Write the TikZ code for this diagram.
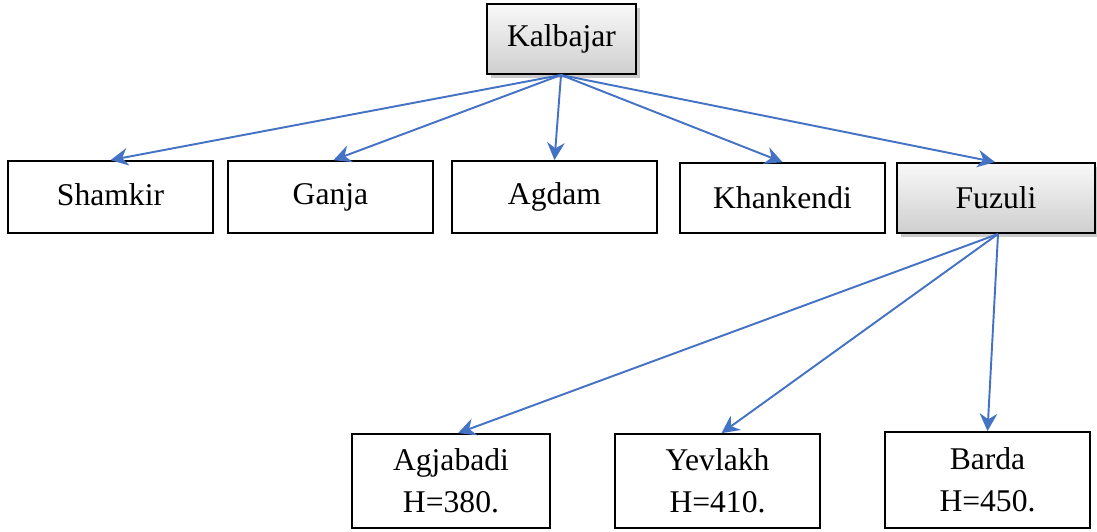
\documentclass[tikz,border=0pt]{standalone}
\usepackage{fontspec}
\setmainfont{Liberation Serif}
\usetikzlibrary{shadows,arrows.meta}
\definecolor{arr}{RGB}{68,114,196}
\begin{document}
\begin{tikzpicture}[x=0.02cm,y=-0.02cm,
  box/.style={draw=black, line width=1pt, inner sep=0pt, font=\fontsize{18}{24}\selectfont, align=center},
  gbox/.style={box, top color=gray!5, bottom color=gray!38, drop shadow={shadow xshift=2.5pt, shadow yshift=-2.5pt, fill=gray!70, opacity=0.6}},
  conn/.style={draw=arr, line width=1.1pt, -{Stealth[length=10pt,width=10pt]}}]
\useasboundingbox (0,0) rectangle (1097,531);
\node[gbox, minimum width=149*0.02cm, minimum height=70*0.02cm] (kal) at (561.5,39) {\raisebox{2pt}{Kalbajar}};
\node[box, minimum width=205*0.02cm, minimum height=72*0.02cm] (sha) at (110.5,197) {\raisebox{3pt}{Shamkir}};
\node[box, minimum width=205*0.02cm, minimum height=72*0.02cm] (gan) at (330.5,197) {\raisebox{3pt}{Ganja}};
\node[box, minimum width=205*0.02cm, minimum height=72*0.02cm] (agd) at (554.5,197) {\raisebox{3pt}{Agdam}};
\node[box, minimum width=205*0.02cm, minimum height=70*0.02cm] (kha) at (782.5,198) {Khankendi};
\node[gbox, minimum width=198*0.02cm, minimum height=70*0.02cm] (fuz) at (996,198) {Fuzuli};
\node[box, minimum width=198*0.02cm, minimum height=94*0.02cm] (agj) at (451,481) {Agjabadi\\H=380.};
\node[box, minimum width=205*0.02cm, minimum height=94*0.02cm] (yev) at (717.5,481) {Yevlakh\\H=410.};
\node[box, minimum width=205*0.02cm, minimum height=96*0.02cm] (bar) at (987.5,480) {Barda\\H=450.};
\coordinate (k0) at (561,75);
\coordinate (f0) at (998,234);
\draw[conn] (k0) -- (sha.north);
\draw[conn] (k0) -- ([xshift=0.02cm*3]gan.north);
\draw[conn] (k0) -- (agd.north);
\draw[conn] (k0) -- (kha.north);
\draw[conn] (k0) -- ([xshift=-0.02cm*1]fuz.north);
\draw[conn] (f0) -- ([xshift=0.02cm*7]agj.north);
\draw[conn] (f0) -- ([xshift=0.02cm*4]yev.north);
\draw[conn] (f0) -- (bar.north);
\end{tikzpicture}
\end{document}
